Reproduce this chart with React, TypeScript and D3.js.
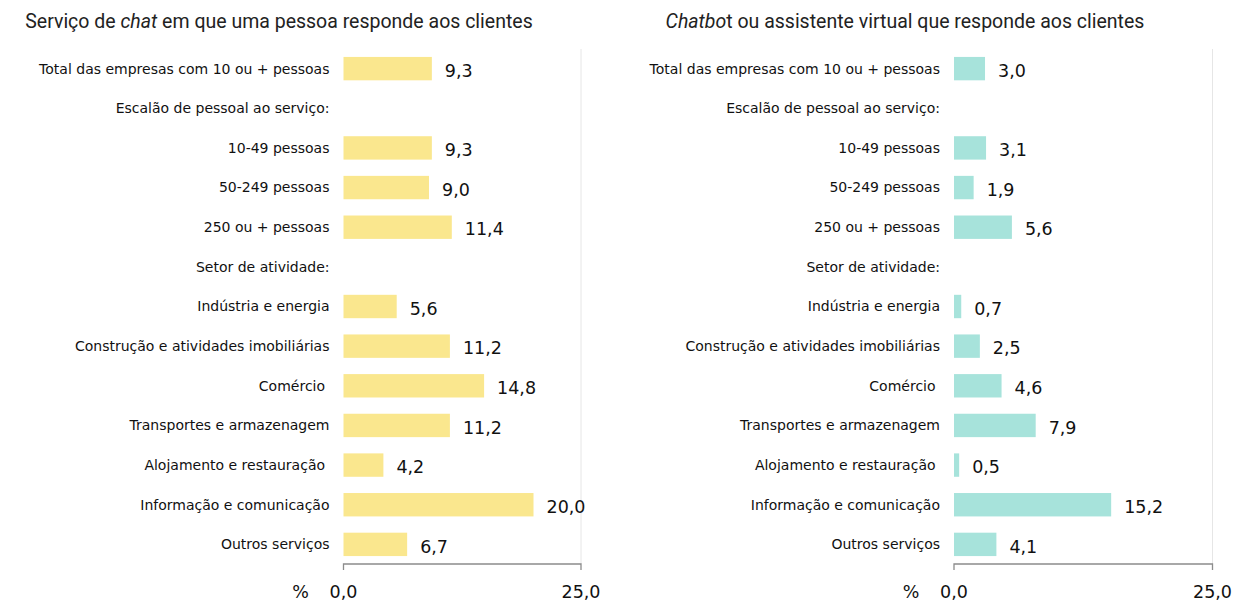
import React from "react";
import * as d3 from "d3";

const categories = [
  "Total das empresas com 10 ou + pessoas",
  "Escalão de pessoal ao serviço:",
  "10-49 pessoas",
  "50-249 pessoas",
  "250 ou + pessoas",
  "Setor de atividade:",
  "Indústria e energia",
  "Construção e atividades imobiliárias",
  "Comércio ",
  "Transportes e armazenagem",
  "Alojamento e restauração ",
  "Informação e comunicação",
  "Outros serviços",
];

const chatValues: (number | null)[] = [9.3, null, 9.3, 9.0, 11.4, null, 5.6, 11.2, 14.8, 11.2, 4.2, 20.0, 6.7];
const chatbotValues: (number | null)[] = [3.0, null, 3.1, 1.9, 5.6, null, 0.7, 2.5, 4.6, 7.9, 0.5, 15.2, 4.1];
const axisTicks = [0, 25];

const W = 1234;
const H = 601;
const TOP = 49;
const BOTTOM = 564;
const LABEL_FONT = "'DejaVu Sans', sans-serif";
const TITLE_FONT = "Roboto, 'Open Sans', sans-serif";

const fmt = (v: number) => d3.format(".1f")(v).replace(".", ",");

function Panel({ values, x0, x1, color, title, titleX }: { values: (number | null)[]; x0: number; x1: number; color: string; title: React.ReactNode; titleX: number }) {
  const x = d3.scaleLinear().domain([0, 25]).range([x0, x1]);
  const y = d3.scaleBand<string>().domain(categories).range([TOP, BOTTOM]).paddingInner(0.41).paddingOuter(0.2);
  return (
    <g>
      <text x={titleX} y={28} textAnchor="middle" fontFamily={TITLE_FONT} fontSize={19.5} fill="#222">
        {title}
      </text>
      <line x1={x(25)} x2={x(25)} y1={TOP} y2={BOTTOM} stroke="#e6e6e6" strokeWidth={1} />
      {categories.map((c, i) => {
        const v = values[i];
        const yc = (y(c) as number) + y.bandwidth() / 2;
        return (
          <g key={c}>
            <text x={x0 - 14} y={yc} dy="0.35em" textAnchor="end" fontFamily={LABEL_FONT} fontSize={14} fill="#111" style={{ whiteSpace: "pre" }}>
              {c}
            </text>
            {v !== null && (
              <>
                <rect x={x(0)} y={y(c)} width={x(v) - x(0)} height={y.bandwidth()} fill={color} />
                <text x={x(v) + 13} y={yc + 2} dy="0.35em" fontFamily={LABEL_FONT} fontSize={17.5} fill="#111">
                  {fmt(v)}
                </text>
              </>
            )}
          </g>
        );
      })}
      <path d={`M${x(0)},${BOTTOM + 6}V${BOTTOM}H${x(25)}V${BOTTOM + 6}`} fill="none" stroke="#8c8c8c" strokeWidth={1.3} />
      {axisTicks.map((t) => (
        <text key={t} x={x(t)} y={592} dy="0.35em" textAnchor="middle" fontFamily={LABEL_FONT} fontSize={17.5} fill="#111">
          {fmt(t)}
        </text>
      ))}
      <text x={x0 - 43} y={592} dy="0.35em" textAnchor="middle" fontFamily={LABEL_FONT} fontSize={17.5} fill="#111">
        %
      </text>
    </g>
  );
}

export default function App() {
  return (
    <svg width={W} height={H} style={{ position: "absolute", left: 0, top: 0, background: "#fff" }}>
      <rect width={W} height={H} fill="#fff" />
      <Panel
        values={chatValues}
        x0={343.5}
        x1={581}
        color="#FAE78E"
        titleX={279}
        title={
          <>
            Serviço de <tspan fontStyle="italic">chat</tspan> em que uma pessoa responde aos clientes
          </>
        }
      />
      <Panel
        values={chatbotValues}
        x0={954}
        x1={1212.5}
        color="#A7E3DB"
        titleX={905}
        title={
          <>
            <tspan fontStyle="italic">Chatbo</tspan>t ou assistente virtual que responde aos clientes
          </>
        }
      />
    </svg>
  );
}
